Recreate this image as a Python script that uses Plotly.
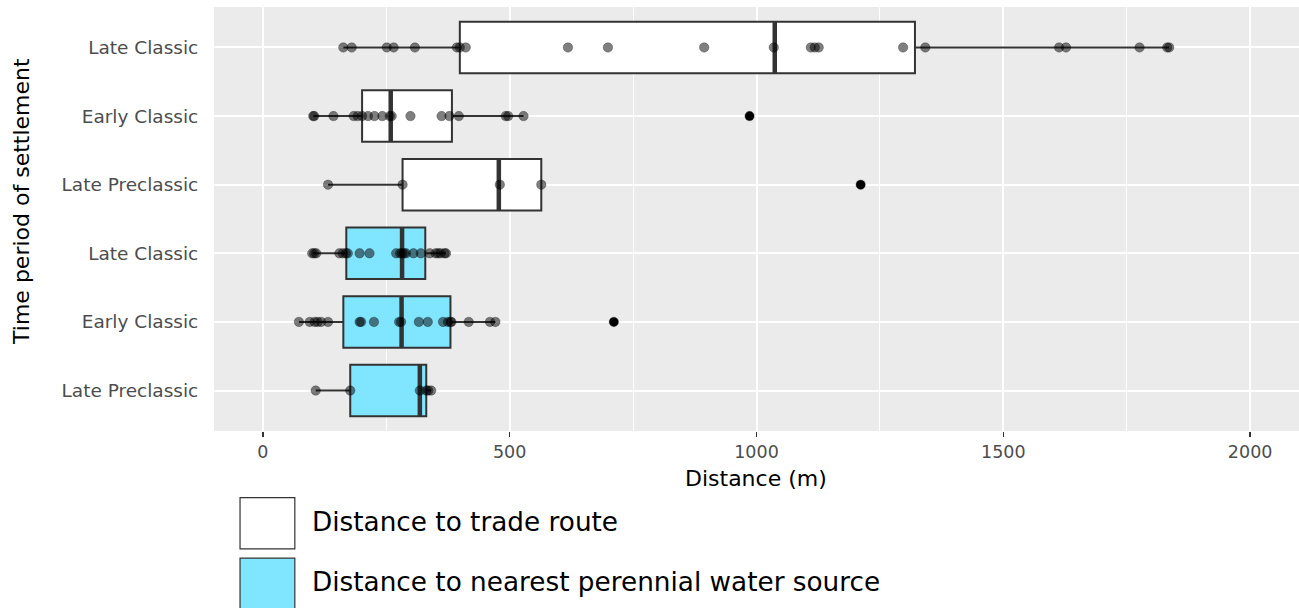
import plotly.graph_objects as go

# ---------------- data ----------------
tick_labels = ["Late Preclassic", "Early Classic", "Late Classic",
               "Late Preclassic", "Early Classic", "Late Classic"]  # bottom -> top
positions = [1, 2, 3, 4, 5, 6]
groups = ["water", "water", "water", "trade", "trade", "trade"]

# individual observations (distance, m), per row bottom -> top
water_late_preclassic = [107, 177, 318, 331, 335, 341]
water_early_classic = [73, 95, 105, 111, 118, 132, 196, 199, 225, 276, 280, 316,
                       334, 365, 375, 380, 382, 417, 460, 471, 711]
water_late_classic = [100, 104, 108, 155, 162, 168, 172, 196, 216, 270, 278, 282,
                      286, 290, 305, 320, 338, 350, 355, 360, 368, 371]
trade_late_preclassic = [132, 283, 480, 564, 1211]
trade_early_classic = [102, 104, 143, 184, 192, 201, 213, 226, 242, 257, 261, 299,
                       362, 378, 397, 492, 497, 528, 986]
trade_late_classic = [163, 180, 251, 265, 308, 393, 399, 411, 618, 699, 894, 1035,
                      1110, 1118, 1126, 1297, 1342, 1613, 1627, 1776, 1832, 1836]
row_points = [water_late_preclassic, water_early_classic, water_late_classic,
              trade_late_preclassic, trade_early_classic, trade_late_classic]

# box statistics, per row bottom -> top
q1 = [177, 163, 169, 283, 201, 399]
median = [318, 281, 282, 478, 259, 1037]
q3 = [331, 380, 329, 564, 383, 1321]
lower_fence = [107, 73, 101, 132, 102, 163]
upper_fence = [341, 471, 371, 564, 528, 1836]
outliers = [[], [711], [], [1211], [986], []]

legend_labels = {"trade": "Distance to trade route",
                 "water": "Distance to nearest perennial water source"}
fill_colors = {"trade": "#FFFFFF", "water": "#80E5FF"}

# ---------------- figure ----------------
LINE = "#333333"
BOX_W = 0.75
fig = go.Figure()

for i, pos in enumerate(positions):
    g = groups[i]
    fig.add_trace(go.Box(
        y=[pos], q1=[q1[i]], median=[median[i]], q3=[q3[i]],
        lowerfence=[lower_fence[i]], upperfence=[upper_fence[i]],
        orientation="h", width=BOX_W, whiskerwidth=0,
        fillcolor=fill_colors[g], line=dict(color=LINE, width=2),
        boxpoints=False, showlegend=False, hoverinfo="skip"))

# thicker median bars
mx, my = [], []
for i, pos in enumerate(positions):
    mx += [median[i], median[i], None]
    my += [pos - BOX_W / 2, pos + BOX_W / 2, None]
fig.add_trace(go.Scatter(x=mx, y=my, mode="lines",
                         line=dict(color=LINE, width=4.5),
                         showlegend=False, hoverinfo="skip"))

# outliers
ox, oy = [], []
for i, pos in enumerate(positions):
    for v in outliers[i]:
        ox.append(v)
        oy.append(pos)
fig.add_trace(go.Scatter(x=ox, y=oy, mode="markers",
                         marker=dict(color="black", size=9),
                         showlegend=False, hoverinfo="skip"))

# observations
px_, py_ = [], []
for i, pos in enumerate(positions):
    for v in row_points[i]:
        px_.append(v)
        py_.append(pos)
fig.add_trace(go.Scatter(x=px_, y=py_, mode="markers",
                         marker=dict(color="rgba(0,0,0,0.5)", size=9.5,
                                     line=dict(color="rgba(0,0,0,0.25)", width=1)),
                         showlegend=False, hoverinfo="skip"))

FONT = "DejaVu Sans"

# manual legend (large keys like ggplot)
legend_order = ["trade", "water"]
key_y = [(-0.157, -0.278), (-0.300, -0.45)]
text_y = [-0.215, -0.355]
for k, g in enumerate(legend_order):
    fig.add_shape(type="rect", xref="paper", yref="paper",
                  x0=0.024, x1=0.0745, y0=key_y[k][1], y1=key_y[k][0],
                  fillcolor=fill_colors[g], line=dict(color="#333333", width=1.2))
    fig.add_annotation(xref="paper", yref="paper", x=0.0885, y=text_y[k],
                       xanchor="left", yanchor="middle", showarrow=False,
                       text=legend_labels[g],
                       font=dict(family=FONT, size=26.3, color="black"))

# axis titles
fig.add_annotation(xref="paper", yref="paper", x=0.4995, y=-0.111,
                   xanchor="center", yanchor="middle", showarrow=False,
                   text="Distance (m)", font=dict(family=FONT, size=22, color="black"))
fig.add_annotation(xref="paper", yref="paper", x=-0.177, y=0.5425,
                   xanchor="center", yanchor="middle", showarrow=False, textangle=-90,
                   text="Time period of settlement", font=dict(family=FONT, size=22, color="black"))

fig.update_layout(
    width=1299, height=608,
    margin=dict(l=214, r=0, t=7, b=177),
    paper_bgcolor="white", plot_bgcolor="#EBEBEB",
    font=dict(family=FONT),
    showlegend=False,
    xaxis=dict(range=[-99, 2099], tickvals=[0, 500, 1000, 1500, 2000],
               ticktext=["0", "500", "1000", "1500", "2000"],
               showgrid=True, gridcolor="white", gridwidth=2,
               minor=dict(tickvals=[250, 750, 1250, 1750], showgrid=True,
                          gridcolor="white", gridwidth=1),
               ticks="outside", ticklen=5, tickwidth=1.5, tickcolor="#333333",
               tickfont=dict(family=FONT, size=17.5, color="#4D4D4D"),
               zeroline=False, showline=False),
    yaxis=dict(range=[0.41, 6.59], tickvals=positions, ticktext=tick_labels,
               showgrid=True, gridcolor="white", gridwidth=2,
               ticks="outside", ticklen=11, tickcolor="rgba(0,0,0,0)",
               tickfont=dict(family=FONT, size=18.5, color="#4D4D4D"),
               zeroline=False, showline=False),
)

fig.write_html("out.html",
               config={"displayModeBar": False, "staticPlot": True},
               post_script="document.body.style.margin='0';"
                           "document.body.style.overflow='hidden';")
